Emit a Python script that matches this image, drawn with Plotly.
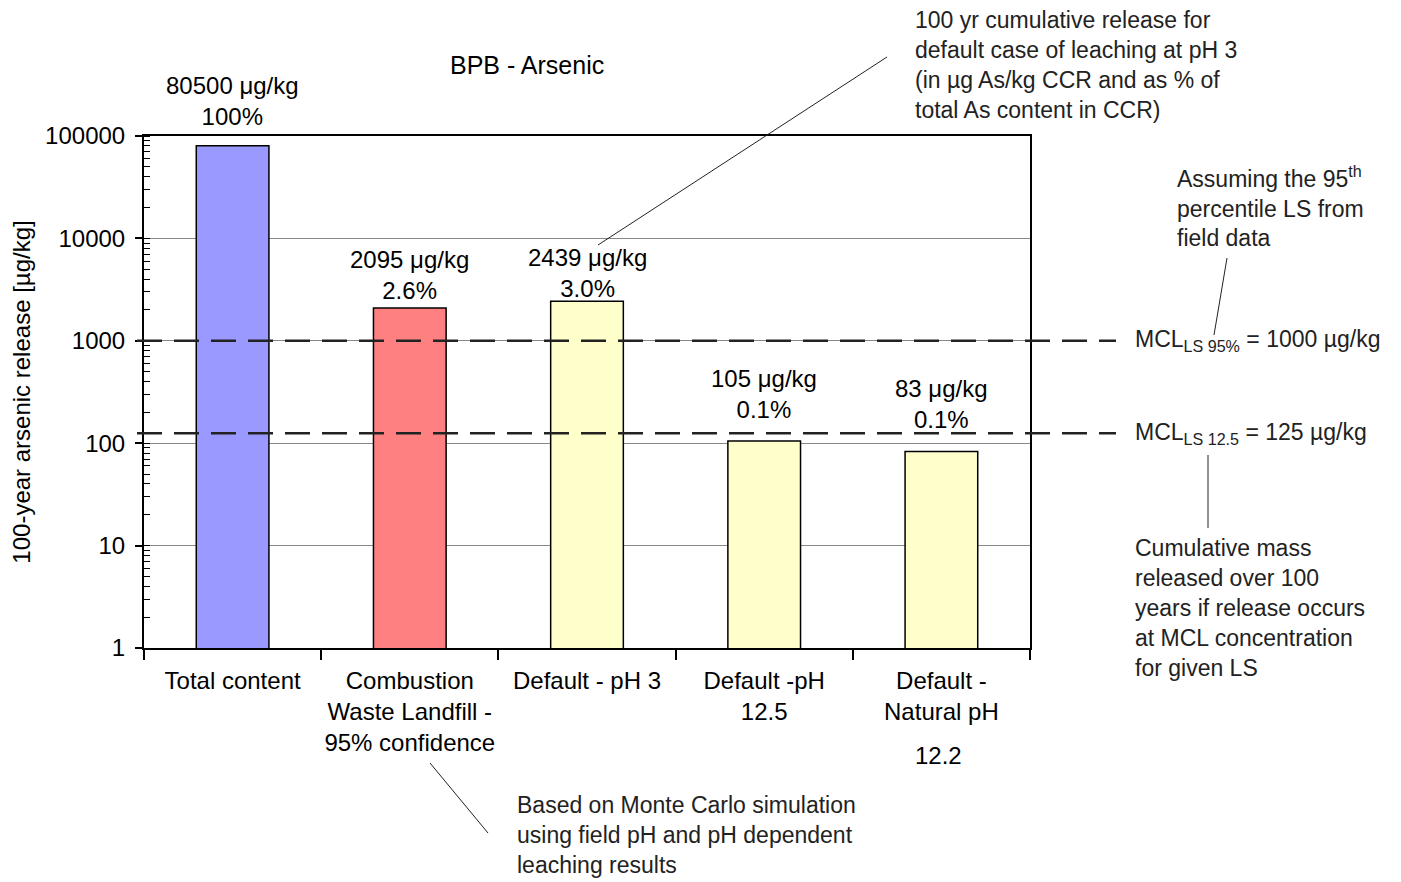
import math

import plotly.graph_objects as go

# ── Data ────────────────────────────────────────────────────────────────────
categories = [
    'Total content',
    'Combustion<br>Waste Landfill -<br>95% confidence',
    'Default - pH 3',
    'Default -pH<br>12.5',
    'Default -<br>Natural pH',
]
release = [80500, 2095, 2439, 105, 83]
percent = ['100%', '2.6%', '3.0%', '0.1%', '0.1%']
bar_colors = ['#9999FF', '#FF8080', '#FFFFCC', '#FFFFCC', '#FFFFCC']
mcl_values = [1000, 125]
mcl_labels = [
    'MCL<sub>LS 95%</sub> = 1000 µg/kg',
    'MCL<sub>LS 12.5</sub> = 125 µg/kg',
]
y_ticks = [1, 10, 100, 1000, 10000, 100000]

# label lift above each bar top (px), style only
label_lift = [14, 2, -3, 16, 16]

# ── Geometry helpers (page pixels -> paper coords) ──────────────────────────
W, H = 1401, 882
OFF = 8                      # body margin of the html page
L, R, T, B = 144, 1030, 136, 648
FONT = 'Liberation Sans, Arial, sans-serif'
FS = 24
TXT = '#222222'


def px(x):
    return (x - L) / (R - L)


def py(y):
    return (B - y) / (B - T)


fig = go.Figure()

fig.add_trace(go.Bar(
    x=categories, y=release,
    marker=dict(color=bar_colors, line=dict(color='black', width=1.5)),
    width=0.41, hoverinfo='x+y',
))

# value labels above the bars (annotations on a log axis take log10 values)
for cat, val, pct, lift in zip(categories, release, percent, label_lift):
    fig.add_annotation(
        text=f'{val} μg/kg<br>{pct}', x=cat, y=math.log10(val),
        xref='x', yref='y',
        xanchor='center', yanchor='bottom', yshift=lift, showarrow=False,
        font=dict(size=FS, color='black', family=FONT),
    )

# MCL dashed reference lines, drawn across the plot and out to the labels
for val, lab in zip(mcl_values, mcl_labels):
    fig.add_shape(
        type='line', xref='paper', yref='y', x0=px(137), x1=px(1116),
        y0=val, y1=val, layer='above',
        line=dict(color='#222', width=2.5, dash='25px,12px'),
    )
    fig.add_annotation(
        text=lab, xref='paper', yref='y', x=px(1133), y=math.log10(val),
        xanchor='left', yanchor='middle', showarrow=False,
        font=dict(size=FS - 1, color=TXT, family=FONT),
    )

notes = [
    ('100 yr cumulative release for<br>default case of leaching at pH 3<br>'
     '(in µg As/kg CCR and as % of<br>total As content in CCR)', 913, 5),
    ('Assuming the 95<sup>th</sup><br>percentile LS from<br>field data', 1175, 160),
    ('Cumulative mass<br>released over 100<br>years if release occurs<br>'
     'at MCL concentration<br>for given LS', 1133, 533),
    ('Based on Monte Carlo simulation<br>using field pH and pH dependent<br>'
     'leaching results', 515, 790),
]
for text, x, y in notes:
    fig.add_annotation(
        text=text, xref='paper', yref='paper', x=px(x), y=py(y),
        xanchor='left', yanchor='top', align='left', showarrow=False,
        font=dict(size=FS - 1, color=TXT, family=FONT),
    )

# leader lines
for x0, y0, x1, y1 in [(887, 57, 598, 245), (1227, 258, 1214, 335),
                       (1208, 455, 1208, 528), (430, 763, 488, 833)]:
    fig.add_shape(type='line', xref='paper', yref='paper',
                  x0=px(x0), y0=py(y0), x1=px(x1), y1=py(y1),
                  line=dict(color='#222', width=1))

# title and the orphaned "12.2" line of the last tick label
fig.add_annotation(text='BPB - Arsenic', xref='paper', yref='paper',
                   x=px(527), y=py(65), xanchor='center', yanchor='middle',
                   showarrow=False,
                   font=dict(size=FS + 1, color='black', family=FONT))
fig.add_annotation(text='12.2', xref='paper', yref='paper',
                   x=px(938), y=py(755), xanchor='center', yanchor='middle',
                   showarrow=False,
                   font=dict(size=FS, color='black', family=FONT))

fig.update_layout(
    width=W - OFF, height=H - OFF, autosize=False,
    paper_bgcolor='white', plot_bgcolor='white',
    margin=dict(l=L - OFF, r=W - R, t=T - OFF, b=H - B, pad=0),
    showlegend=False,
    font=dict(family=FONT, size=FS, color='black'),
    xaxis=dict(
        type='category', tickson='boundaries', ticks='outside', ticklen=10,
        tickwidth=1.5, tickcolor='black', showgrid=False, tickangle=0,
        showline=True, linecolor='black', linewidth=2, mirror=True,
        ticklabelstandoff=10,
        tickfont=dict(size=FS, color='black'), automargin=False,
    ),
    yaxis=dict(
        type='log', range=[0, 5], tickvals=y_ticks,
        ticktext=[str(v) for v in y_ticks],
        ticks='outside', ticklen=7, tickwidth=1.5, tickcolor='black',
        showline=True, linecolor='black', linewidth=2, mirror=True,
        showgrid=True, gridcolor='#888', gridwidth=1, zeroline=False,
        minor=dict(ticks='inside', ticklen=6, tickwidth=1, dtick='D1',
                   tickcolor='black', showgrid=False),
        ticklabelstandoff=5, automargin=False,
        tickfont=dict(size=FS, color='black'),
        title=dict(text='100-year arsenic release [µg/kg]', standoff=14,
                   font=dict(size=FS, color='black')),
    ),
)

fig.write_html('out.html')
